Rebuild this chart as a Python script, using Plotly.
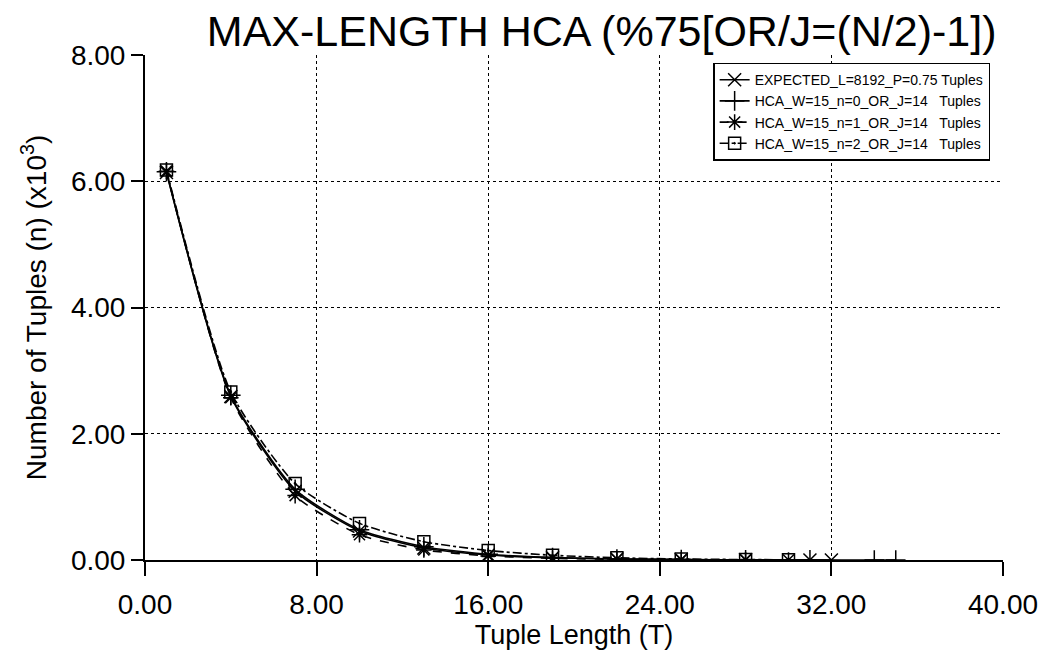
import plotly.graph_objects as go

# Tuple lengths (T) and tuple counts (x10^3) for each series
len_expected = [1, 4, 7, 10, 13, 16, 19, 22, 25, 28, 31, 32]
val_expected = [6.14, 2.59, 1.09, 0.46, 0.19, 0.08, 0.035, 0.015, 0.006, 0.003, 0.001, 0.0008]

len_n0 = [1, 4, 7, 10, 13, 16, 19, 22, 25, 28, 31, 34, 35]
val_n0 = [6.15, 2.61, 1.12, 0.48, 0.21, 0.09, 0.04, 0.017, 0.007, 0.003, 0.0013, 0.0005, 0.0002]

len_n1 = [1, 4, 7, 10, 13, 16, 19, 22, 25, 28, 30]
val_n1 = [6.16, 2.57, 1.02, 0.40, 0.16, 0.065, 0.027, 0.011, 0.0045, 0.0018, 0.001]

len_n2 = [1, 4, 7, 10, 13, 16, 19, 22, 25, 28, 30]
val_n2 = [6.18, 2.66, 1.21, 0.58, 0.29, 0.15, 0.075, 0.035, 0.016, 0.007, 0.004]

names = [
    "EXPECTED_L=8192_P=0.75 Tuples",
    "HCA_W=15_n=0_OR_J=14\u00a0\u00a0 Tuples",
    "HCA_W=15_n=1_OR_J=14\u00a0\u00a0 Tuples",
    "HCA_W=15_n=2_OR_J=14\u00a0\u00a0 Tuples",
]

FONT = "Liberation Sans, Arial, Helvetica, sans-serif"

series = [
    (len_expected, val_expected, names[0], "solid", "x-thin", 13),
    (len_n0, val_n0, names[1], "solid", "cross-thin", 14),
    (len_n1, val_n1, names[2], "dash", "asterisk", 13),
    (len_n2, val_n2, names[3], "dashdot", "square-open-dot", 12),
]

fig = go.Figure()
for xs, ys, nm, dash, sym, size in series:
    fig.add_trace(go.Scatter(
        x=xs, y=ys, name=nm, mode="lines+markers",
        line=dict(color="black", width=1.6, dash=dash, shape="spline", smoothing=0.6),
        marker=dict(symbol=sym, size=size, color="black",
                    line=dict(color="black", width=1.5)),
    ))

fig.update_layout(
    width=1041, height=653,
    paper_bgcolor="white", plot_bgcolor="white",
    margin=dict(l=145, r=38, t=55, b=93),
    font=dict(family=FONT, color="black"),
    title=dict(text="MAX-LENGTH HCA (%75[OR/J=(N/2)-1])",
               x=0.578, xanchor="center", y=0.952, yanchor="middle",
               font=dict(size=43, family=FONT, color="black")),
    legend=dict(x=0.985, y=0.985, xanchor="right", yanchor="top",
                bgcolor="white", bordercolor="black", borderwidth=1.5,
                font=dict(size=14, family=FONT, color="black"),
                itemwidth=30, tracegroupgap=0),
    showlegend=True,
)

fig.update_xaxes(
    range=[0, 40], dtick=8, tick0=0, tickformat=".2f",
    showline=True, linecolor="black", linewidth=2,
    ticks="outside", ticklen=14, tickwidth=2, tickcolor="black",
    showgrid=True, gridcolor="black", gridwidth=1, griddash="dot",
    zeroline=False, ticklabelstandoff=4, automargin=False,
    tickfont=dict(size=28, family=FONT, color="black"),
    title=dict(text="Tuple Length (T)", font=dict(size=27, family=FONT, color="black"),
               standoff=6),
)
fig.update_yaxes(
    range=[0, 8], dtick=2, tick0=0, tickformat=".2f",
    showline=True, linecolor="black", linewidth=2,
    ticks="outside", ticklen=12, tickwidth=2, tickcolor="black",
    showgrid=True, gridcolor="black", gridwidth=1, griddash="dot",
    zeroline=False, automargin=False,
    tickfont=dict(size=28, family=FONT, color="black"),
    title=dict(text="Number of Tuples (n) (x10<sup>3</sup>)",
               font=dict(size=28, family=FONT, color="black"), standoff=16),
)

fig.write_html("out.html")
